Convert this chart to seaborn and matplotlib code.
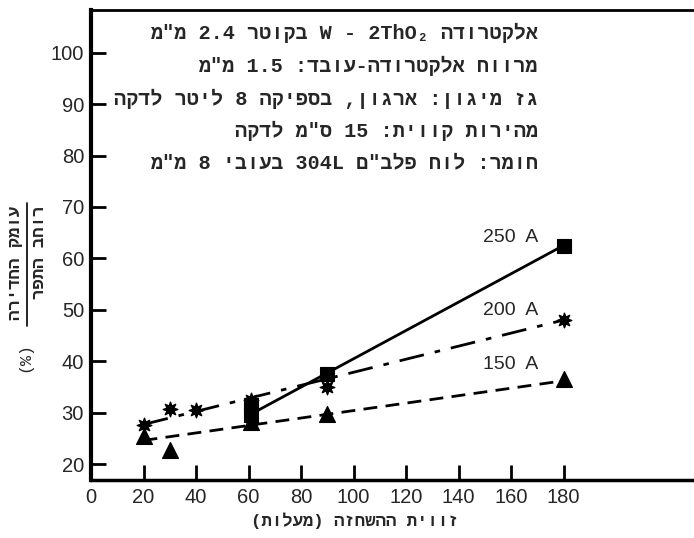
import re
import matplotlib
matplotlib.use("Agg")
import matplotlib.pyplot as plt
import seaborn as sns
from matplotlib.lines import Line2D

# values (angle in degrees, ratio in %)
x_250 = [61, 61, 90, 180]
y_250 = [31.5, 29.5, 37.5, 62.5]
x_200 = [20, 30, 40, 61, 90, 180]
y_200 = [27.5, 30.8, 30.5, 32.5, 35.0, 48.0]
x_150 = [20, 30, 61, 90, 180]
y_150 = [25.5, 22.7, 28.2, 29.8, 36.5]

# hand drawn trend lines (end points)
fit_250_x = [62, 180]
fit_250_y = [30.0, 62.5]
fit_200_x = [20, 180]
fit_200_y = [27.7, 48.0]
fit_150_x = [20, 180]
fit_150_y = [24.6, 36.2]

series_names = ["250 A", "200 A", "150 A"]
x_ticks = [0, 20, 40, 60, 80, 100, 120, 140, 160, 180]
y_ticks = [20, 30, 40, 50, 60, 70, 80, 90, 100]

notes = [
    "אלקטרודה W - 2ThO₂ בקוטר 2.4 מ\"מ",
    "מרווח אלקטרודה-עובד: 1.5 מ\"מ",
    "גז מיגון: ארגון, בספיקה 8 ליטר לדקה",
    "מהירות קווית: 15 ס\"מ לדקה",
    "חומר: לוח פלב\"ם 304L בעובי 8 מ\"מ",
]
xlabel = "זווית ההשחזה (מעלות)"
ylabel_top = "עומק החדירה"
ylabel_bottom = "רוחב התפר"

MONO = ["Liberation Mono", "DejaVu Sans Mono", "DejaVu Sans"]
SANS = ["Liberation Sans", "DejaVu Sans"]

MIRROR = str.maketrans("()", ")(")


def rtl(s):
    # matplotlib has no bidi support: reverse the line, then put latin/digit runs back
    r = s[::-1].translate(MIRROR)
    pat = r"[A-Za-z0-9₂][A-Za-z0-9₂.\- ]*[A-Za-z0-9₂]|[A-Za-z0-9₂]"
    return re.sub(pat, lambda m: m.group(0)[::-1], r)


sns.set_style("ticks")
plt.rcParams["font.family"] = SANS

W, H = 694, 538
fig = plt.figure(figsize=(W / 100, H / 100), dpi=100)
ax = fig.add_axes([91 / W, 1 - 480 / H, 1 - 91 / W, 470 / H])

# trend lines
sns.lineplot(x=fit_250_x, y=fit_250_y, color="black", lw=2, ax=ax)
sns.lineplot(x=fit_200_x, y=fit_200_y, color="black", lw=2,
             linestyle=(0, (9, 4, 2, 4)), ax=ax)
sns.lineplot(x=fit_150_x, y=fit_150_y, color="black", lw=2,
             linestyle=(0, (5, 3)), ax=ax)

# measured points
sns.scatterplot(x=x_250, y=y_250, marker="s", color="black", s=100,
                edgecolor="black", ax=ax, zorder=5)
sns.scatterplot(x=x_200, y=y_200, marker=(8, 1, 0), color="black", s=110,
                edgecolor="black", linewidth=1, ax=ax, zorder=5)
sns.scatterplot(x=x_150, y=y_150, marker="^", color="black", s=130,
                edgecolor="black", ax=ax, zorder=5)

# series labels
for name, yy in zip(series_names, [62.4, 48.3, 37.8]):
    ax.text(170.5, yy, name.replace(" ", "  "), ha="right", va="bottom",
            fontsize=14, family=SANS)

ax.set_xlim(0, (W - 91) / 2.625)
ax.set_ylim(16.9, 108.3)
ax.set_xticks(x_ticks)
ax.set_yticks(y_ticks)
ax.set_xticklabels([str(v) for v in x_ticks])
ax.set_yticklabels([str(v) for v in y_ticks])
ax.tick_params(axis="both", direction="in", length=11, width=2,
               labelsize=14.5, pad=5, color="black")
ax.tick_params(axis="x", pad=6)
ax.spines["right"].set_visible(False)
ax.spines["left"].set_linewidth(3)
ax.spines["bottom"].set_linewidth(2.5)
ax.spines["top"].set_linewidth(2)
for sp in ax.spines.values():
    sp.set_color("black")

# conditions block, right aligned in hebrew
for line, yc in zip(notes, [33, 66, 99, 131, 163]):
    fig.text(538 / W, 1 - yc / H, rtl(line), ha="right", va="center",
             fontsize=14.5, family=MONO, fontweight="bold")

# axis titles
fig.text(355 / W, 1 - 521 / H, rtl(xlabel), ha="center", va="center",
         fontsize=12.5, family=MONO, fontweight="bold")
fig.text(16 / W, 1 - 206 / H, rtl(ylabel_top), rotation=90, ha="center",
         va="top", fontsize=12.5, family=MONO, fontweight="bold")
fig.text(39 / W, 1 - 206 / H, rtl(ylabel_bottom), rotation=90, ha="center",
         va="top", fontsize=12.5, family=MONO, fontweight="bold")
fig.add_artist(Line2D([27 / W, 27 / W], [1 - 203 / H, 1 - 326 / H],
                      color="black", lw=1.2))
fig.text(25 / W, 1 - 357 / H, "(%)", rotation=90, ha="center", va="center",
         fontsize=12, family=MONO)

fig.savefig("out.png", dpi=100)
